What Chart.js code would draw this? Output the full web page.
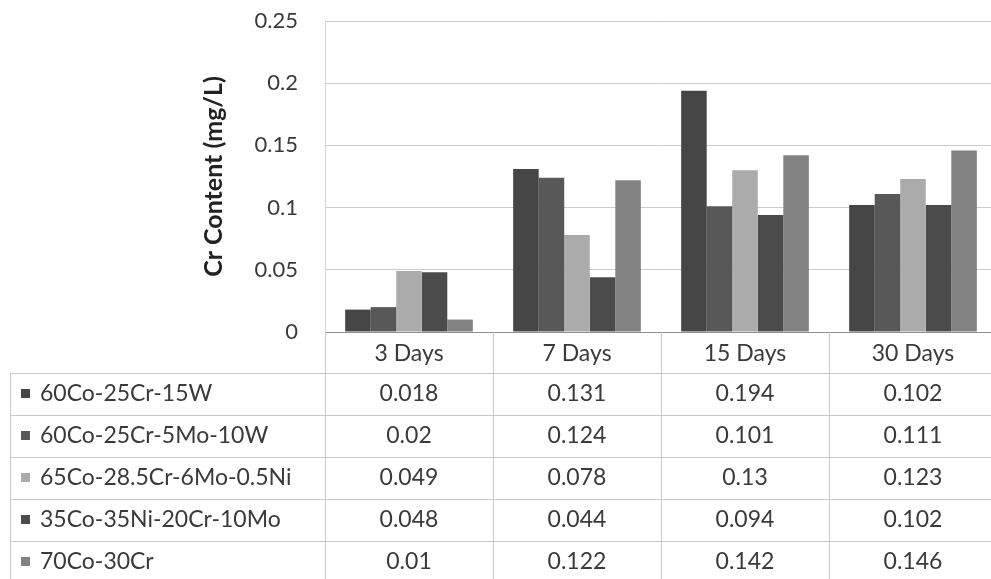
<!DOCTYPE html>
<html>
<head>
<meta charset="utf-8">
<script src="https://cdn.jsdelivr.net/npm/chart.js@4/dist/chart.umd.min.js"></script>
<style>
  html, body { margin: 0; padding: 0; background: #fff; overflow: hidden; }
  #wrap { width: 1000px; height: 579px; }
</style>
</head>
<body>
<div id="wrap"><canvas id="chart" width="1000" height="579"></canvas></div>
<script>
const categories = ['3 Days', '7 Days', '15 Days', '30 Days'];
const seriesNames = ['60Co-25Cr-15W', '60Co-25Cr-5Mo-10W', '65Co-28.5Cr-6Mo-0.5Ni', '35Co-35Ni-20Cr-10Mo', '70Co-30Cr'];
const s1 = [0.018, 0.131, 0.194, 0.102];
const s2 = [0.02, 0.124, 0.101, 0.111];
const s3 = [0.049, 0.078, 0.13, 0.123];
const s4 = [0.048, 0.044, 0.094, 0.102];
const s5 = [0.01, 0.122, 0.142, 0.146];
const yTickLabels = ['0', '0.05', '0.1', '0.15', '0.2', '0.25'];
const yTitle = 'Cr Content (mg/L)';

const seriesValues = [s1, s2, s3, s4, s5];
const seriesColors = ['#464646', '#585858', '#ababab', '#4b4b4b', '#828282'];

const FONT = 'Lato, "Open Sans", sans-serif';
const TEXT = '#3a3a3a';
const HEADER_H = 41;
const ROW_H = 42;

// data table drawn under the plot, columns follow the x scale
const dataTable = {
    id: 'dataTable',
    afterDraw(chart) {
        const ctx = chart.ctx;
        const x = chart.scales.x;
        const area = chart.chartArea;
        const n = categories.length;
        const colW = (x.right - x.left) / n;
        const tableTop = area.bottom + HEADER_H;
        const bottom = chart.height;

        ctx.save();
        ctx.strokeStyle = '#c9c9c9';
        ctx.lineWidth = 1;

        // horizontal rules
        for (let r = 0; r <= seriesNames.length; r++) {
            const y = Math.round(tableTop + r * ROW_H) + 0.5;
            ctx.beginPath();
            ctx.moveTo(10, y);
            ctx.lineTo(chart.width, y);
            ctx.stroke();
        }
        // left border
        ctx.beginPath();
        ctx.moveTo(10.5, tableTop);
        ctx.lineTo(10.5, bottom);
        ctx.stroke();
        // column dividers
        for (let j = 0; j <= n; j++) {
            const xx = Math.round(x.left + j * colW) + 0.5;
            ctx.beginPath();
            ctx.moveTo(xx, area.bottom);
            ctx.lineTo(xx, bottom);
            ctx.stroke();
        }

        ctx.font = '23px ' + FONT;
        ctx.textBaseline = 'middle';
        seriesNames.forEach((name, i) => {
            const cy = tableTop + i * ROW_H + ROW_H / 2;
            ctx.fillStyle = seriesColors[i];
            ctx.fillRect(21, cy - 5, 9, 9);
            ctx.fillStyle = TEXT;
            ctx.textAlign = 'left';
            ctx.fillText(name, 40, cy);
            ctx.textAlign = 'center';
            seriesValues[i].forEach((v, j) => {
                ctx.fillText(String(v), x.getPixelForValue(j), cy);
            });
        });
        ctx.restore();
    }
};

const datasets = seriesNames.map((name, i) => ({
    label: name,
    data: seriesValues[i],
    backgroundColor: seriesColors[i],
    borderWidth: 0,
    categoryPercentage: 0.76,
    barPercentage: 1.0
}));

new Chart(document.getElementById('chart'), {
    type: 'bar',
    data: { labels: categories, datasets },
    options: {
        responsive: false,
        animation: false,
        layout: { padding: { top: 21, right: 3, bottom: 579 - 332 - HEADER_H, left: 0 } },
        plugins: {
            legend: { display: false },
            tooltip: { enabled: false }
        },
        scales: {
            x: {
                grid: { display: false, drawTicks: false },
                border: { color: '#8f8f8f' },
                ticks: { color: TEXT, font: { family: FONT, size: 23 }, padding: 8, maxRotation: 0 },
                afterFit(scale) { scale.height = HEADER_H; }
            },
            y: {
                min: 0,
                max: 0.25,
                grid: { color: '#cccccc', drawTicks: false },
                border: { color: '#d6d6d6' },
                ticks: {
                    stepSize: 0.05,
                    color: TEXT,
                    padding: 27,
                    font: { family: FONT, size: 22 },
                    callback: (v, i) => yTickLabels[i]
                },
                title: {
                    display: true,
                    text: yTitle,
                    color: '#222',
                    font: { family: FONT, size: 25, weight: 'bold' },
                    padding: { top: 199, bottom: 0 }
                },
                afterFit(scale) {
                    scale.width = 325;
                    // tick padding would otherwise push the plot top down
                    scale.paddingTop = 12;
                    scale.paddingBottom = 12;
                }
            }
        }
    },
    plugins: [dataTable]
});
</script>
</body>
</html>
